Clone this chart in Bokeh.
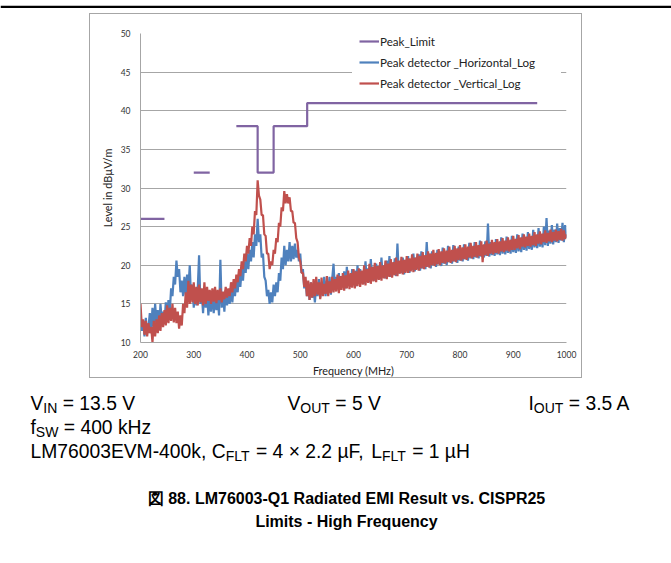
import math
from bokeh.plotting import figure
from bokeh.layouts import column
from bokeh.models import Range1d, Label, Legend, LegendItem, FixedTicker
from bokeh.embed import file_html
from bokeh.resources import INLINE

# ---------------- data ----------------
freq = [200 + 2.5 * i for i in range(321)]  # MHz, 200 ... 1000

horizontal = [
    14.0, 11.5, 12.8, 10.8, 13.2, 11.2, 12.0, 13.8, 11.5, 14.5,   # 200-222.5
    12.0, 15.0, 12.5, 14.2, 11.8, 15.0, 12.8, 14.0, 12.5, 15.2,   # 225-247.5
    13.5, 15.5, 14.0, 17.0, 16.0, 18.5, 17.5, 20.6, 18.5, 19.5,   # 250-272.5
    16.5, 18.0, 16.0, 18.5, 16.2, 18.8, 17.0, 20.0, 15.5, 17.5,   # 275-297.5
    14.5, 16.8, 14.8, 17.0, 21.3, 15.0, 16.5, 13.8, 16.8, 14.5,   # 300-322.5
    16.2, 13.5, 15.8, 14.0, 16.5, 13.8, 16.0, 14.2, 15.8, 13.5,   # 325-347.5
    20.7, 14.5, 16.5, 14.0, 16.8, 14.8, 16.2, 15.0, 16.8, 15.2,   # 350-372.5
    17.5, 16.0, 18.2, 16.5, 18.8, 17.2, 19.5, 18.0, 20.5, 19.0,   # 375-397.5
    21.5, 19.5, 22.0, 20.5, 23.0, 21.0, 24.0, 22.5, 26.0, 23.0,   # 400-422.5
    24.0, 21.0, 21.5, 18.5, 18.0, 16.0, 16.8, 15.0, 16.5, 15.2,   # 425-447.5
    17.5, 16.0, 17.8, 16.5, 19.0, 18.0, 21.0, 19.5, 22.5, 20.0,   # 450-472.5
    22.0, 20.5, 23.0, 20.5, 22.5, 20.8, 22.8, 21.0, 22.0, 20.5,   # 475-497.5
    21.5, 19.0, 19.5, 17.0, 18.0, 16.0, 17.5, 15.5, 17.8, 15.8,   # 500-522.5
    17.0, 15.2, 17.5, 16.0, 18.2, 15.8, 17.8, 16.2, 18.5, 16.0,   # 525-547.5
    18.0, 16.5, 18.5, 16.2, 18.2, 20.2, 16.8, 18.5, 17.0, 19.0,   # 550-572.5
    16.8, 18.6, 17.2, 19.2, 17.0, 19.8, 17.4, 18.8, 17.2, 19.5,   # 575-597.5
    17.5, 19.3, 17.3, 20.0, 17.6, 19.5, 17.8, 19.2, 17.6, 20.5,   # 600-622.5
    18.0, 19.6, 17.8, 20.8, 18.2, 19.8, 18.0, 20.2, 18.3, 19.9,   # 625-647.5
    18.2, 21.0, 18.4, 20.0, 18.3, 20.6, 18.6, 21.2, 18.5, 20.3,   # 650-672.5
    18.8, 20.9, 18.6, 22.8, 18.9, 20.5, 19.0, 21.0, 18.8, 20.7,   # 675-697.5
    19.2, 21.2, 19.0, 20.8, 19.4, 21.5, 19.2, 21.0, 19.5, 21.4,   # 700-722.5
    19.3, 21.8, 19.6, 21.2, 19.5, 23.0, 19.8, 21.5, 19.6, 21.8,   # 725-747.5
    20.0, 21.3, 19.8, 22.0, 20.1, 21.6, 19.9, 22.3, 20.2, 21.7,   # 750-772.5
    20.0, 22.5, 20.4, 21.8, 20.2, 22.6, 20.5, 21.9, 20.3, 22.4,   # 775-797.5
    20.6, 22.0, 20.5, 22.7, 20.8, 22.2, 20.6, 22.9, 20.9, 22.3,   # 800-822.5
    20.8, 23.0, 21.0, 22.4, 20.9, 23.2, 21.1, 22.6, 21.0, 23.1,   # 825-847.5
    21.2, 25.4, 21.1, 23.0, 21.3, 22.8, 21.2, 23.4, 21.4, 22.9,   # 850-872.5
    21.3, 23.6, 21.5, 23.0, 21.4, 23.7, 21.6, 23.1, 21.5, 23.8,   # 875-897.5
    21.7, 23.3, 21.6, 24.0, 21.8, 23.4, 21.7, 24.1, 22.0, 23.5,   # 900-922.5
    21.9, 24.3, 22.1, 23.7, 22.0, 24.6, 22.3, 23.9, 22.2, 24.8,   # 925-947.5
    22.4, 24.0, 22.3, 25.0, 22.6, 26.1, 22.5, 24.5, 22.8, 25.2,   # 950-972.5
    22.7, 24.6, 23.0, 25.4, 22.9, 24.8, 23.2, 25.5, 23.0, 25.2,   # 975-997.5
    23.5,                                                         # 1000
]

vertical = [
    15.0, 12.0, 13.0, 11.0, 12.8, 10.8, 12.5, 11.2, 12.0, 10.0,   # 200-222.5
    12.8, 10.8, 13.0, 11.2, 13.5, 11.5, 13.8, 12.0, 14.2, 12.2,   # 225-247.5
    14.8, 12.5, 14.5, 12.8, 15.0, 12.6, 14.5, 12.5, 14.0, 11.8,   # 250-272.5
    13.5, 12.2, 15.0, 13.8, 16.5, 14.5, 18.0, 15.0, 17.5, 15.2,   # 275-297.5
    17.8, 15.0, 17.2, 14.8, 17.5, 15.2, 17.0, 14.8, 17.8, 15.0,   # 300-322.5
    17.2, 15.4, 16.8, 15.0, 17.0, 15.3, 17.2, 15.1, 16.8, 15.5,   # 325-347.5
    17.0, 15.2, 16.6, 15.6, 17.2, 15.8, 17.0, 16.0, 17.8, 16.5,   # 350-372.5
    18.2, 17.0, 18.8, 17.8, 19.5, 18.6, 20.5, 19.5, 21.5, 20.5,   # 375-397.5
    22.5, 21.5, 23.5, 22.5, 25.0, 24.0, 27.0, 26.5, 31.0, 29.0,   # 400-422.5
    28.5, 26.5, 26.5, 24.0, 23.8, 21.5, 21.5, 19.5, 20.5, 20.0,   # 425-447.5
    22.0, 21.5, 23.5, 23.0, 25.5, 25.0, 27.5, 27.0, 29.6, 28.0,   # 450-472.5
    29.2, 28.0, 28.8, 27.0, 27.0, 25.5, 25.5, 23.5, 23.0, 21.0,   # 475-497.5
    20.5, 19.0, 19.0, 17.2, 18.5, 16.0, 18.0, 15.5, 17.8, 15.8,   # 500-522.5
    18.2, 16.0, 18.5, 16.2, 17.8, 15.6, 18.4, 16.0, 17.6, 16.3,   # 525-547.5
    18.6, 16.0, 17.9, 16.4, 18.5, 16.5, 18.2, 16.6, 18.8, 16.4,   # 550-572.5
    18.6, 16.8, 19.0, 16.7, 18.7, 17.0, 19.3, 16.9, 19.0, 17.1,   # 575-597.5
    19.5, 17.0, 19.2, 17.3, 19.6, 17.2, 19.3, 17.5, 20.0, 17.4,   # 600-622.5
    19.5, 17.7, 20.2, 17.6, 19.8, 17.9, 20.3, 17.8, 19.9, 18.1,   # 625-647.5
    20.4, 18.0, 20.0, 18.3, 20.6, 18.2, 20.2, 18.5, 20.8, 18.4,   # 650-672.5
    20.4, 18.7, 21.0, 18.6, 20.6, 18.9, 21.1, 18.8, 20.7, 19.0,   # 675-697.5
    21.2, 19.0, 20.9, 19.2, 21.4, 19.1, 21.0, 19.4, 21.5, 19.3,   # 700-722.5
    21.2, 19.6, 21.7, 19.5, 21.3, 19.8, 21.8, 19.7, 21.5, 20.0,   # 725-747.5
    22.0, 19.9, 21.6, 20.1, 22.1, 20.0, 21.8, 20.3, 22.2, 20.2,   # 750-772.5
    21.9, 20.4, 22.4, 20.3, 22.0, 20.5, 22.5, 20.4, 22.2, 20.7,   # 775-797.5
    22.6, 20.6, 22.3, 20.8, 22.7, 20.7, 22.4, 21.0, 22.9, 20.9,   # 800-822.5
    22.5, 21.1, 23.0, 21.0, 22.6, 21.2, 23.1, 20.4, 22.7, 21.3,   # 825-847.5
    23.2, 21.2, 22.8, 21.5, 23.3, 21.4, 23.0, 21.6, 23.4, 21.5,   # 850-872.5
    23.1, 21.8, 23.5, 21.7, 23.2, 21.9, 23.6, 21.8, 23.3, 22.0,   # 875-897.5
    23.8, 22.0, 23.4, 22.2, 23.9, 22.1, 23.6, 22.4, 24.0, 22.3,   # 900-922.5
    23.7, 22.5, 24.1, 22.4, 23.8, 22.6, 24.3, 22.5, 24.0, 22.8,   # 925-947.5
    24.4, 22.7, 24.1, 23.0, 24.5, 22.9, 24.2, 23.1, 24.6, 23.0,   # 950-972.5
    24.3, 23.2, 24.6, 23.1, 24.4, 23.3, 24.7, 23.2, 24.5, 23.4,   # 975-997.5
    24.0,                                                         # 1000
]

limit_start = [200, 300, 380, 420, 450, 513]
limit_end = [245, 330, 420, 450, 513, 945]
limit_level = [26, 32, 38, 32, 38, 41]

x_ticks = [200, 300, 400, 500, 600, 700, 800, 900, 1000]
y_ticks = [10, 15, 20, 25, 30, 35, 40, 45, 50]

series_names = ["Peak_Limit", "Peak detector _Horizontal_Log", "Peak detector _Vertical_Log"]
x_title = "Frequency (MHz)"
y_title = "Level in dBµV/m"

cond_line1 = [
    [("V", 0), ("IN", 1), (" = 13.5 V", 0)],
    [("V", 0), ("OUT", 1), (" = 5 V", 0)],
    [("I", 0), ("OUT", 1), (" = 3.5 A", 0)],
]
cond_line2 = [("f", 0), ("SW", 1), (" = 400 kHz", 0)]
cond_line3 = [("LM76003EVM-400k, C", 0), ("FLT", 1), (" = 4 × 2.2 µF,", 0),
              (" L", 0), ("FLT", 1), (" = 1 µH", 0)]
caption1 = "図 88. LM76003-Q1 Radiated EMI Result vs. CISPR25"
caption2 = "Limits - High Frequency"

# ---------------- colours / layout ----------------
C_LIMIT, C_H, C_V = "#8064A2", "#4F81BD", "#C0504D"
GRID = "#a6a6a6"
PAGE_W = 671
TOP_H = 13            # strip holding the top rule
CH_W, CH_H = 491, 363  # chart box (inside its 1px border)
TXT_TOP = TOP_H + CH_H + 2
TXT_H = 563 - TXT_TOP


def no_align(fig):
    if "frame_align" in fig.properties():
        fig.frame_align = False


# --- top rule strip ---
p0 = figure(width=PAGE_W, height=TOP_H, x_range=Range1d(0, PAGE_W), y_range=Range1d(TOP_H, 0),
            x_axis_type=None, y_axis_type=None, min_border=0,
            output_backend="svg", toolbar_location=None)
p0.outline_line_color = None
p0.quad(left=[0], right=[PAGE_W], top=[5.2], bottom=[7.4], fill_color="black", line_alpha=0)
no_align(p0)

# --- chart ---
p = figure(width=CH_W, height=CH_H, x_range=Range1d(200, 1000), y_range=Range1d(10, 50),
           output_backend="svg", toolbar_location=None,
           min_border_left=50, min_border_right=17, min_border_top=19, min_border_bottom=37,
           margin=(0, 0, 0, 89),
           styles={"border": "1px solid #a6a6a6", "box-sizing": "content-box"})
no_align(p)
p.outline_line_color = None
p.background_fill_color = "white"
p.border_fill_color = "white"

p.xgrid.visible = False
p.ygrid.grid_line_color = GRID
p.ygrid.grid_line_width = 1
p.ygrid.ticker = FixedTicker(ticks=y_ticks)

for ax in (p.xaxis[0], p.yaxis[0]):
    ax.major_tick_in = 0
    ax.major_tick_out = 0
    ax.minor_tick_in = 0
    ax.minor_tick_out = 0
    ax.axis_line_color = GRID
    ax.major_label_text_font = "Lato"
    ax.major_label_text_font_size = "8.5px"
    ax.major_label_text_color = "#333333"
    ax.axis_label_text_font = "Lato"
    ax.axis_label_text_font_size = "10.8px"
    ax.axis_label_text_font_style = "normal"
    ax.axis_label_text_color = "#222222"

p.xaxis.ticker = FixedTicker(ticks=x_ticks)
p.yaxis.ticker = FixedTicker(ticks=y_ticks)
p.xaxis.axis_label = x_title
p.yaxis.axis_label = y_title
p.xaxis.major_label_standoff = 8
p.xaxis.axis_label_standoff = 3
p.yaxis.major_label_standoff = 10
p.yaxis.axis_label_standoff = 4

r_h = p.line(freq, horizontal, line_color=C_H, line_width=2.2)
r_v = p.line(freq, vertical, line_color=C_V, line_width=2.2)

lx, ly = [], []
for i, (s, e, lv) in enumerate(zip(limit_start, limit_end, limit_level)):
    if i > 0 and limit_end[i - 1] != s:
        lx.append(math.nan)
        ly.append(math.nan)
    lx += [s, e]
    ly += [lv, lv]
r_lim = p.line(lx, ly, line_color=C_LIMIT, line_width=2.2)

legend = Legend(
    items=[LegendItem(label=series_names[0], renderers=[r_lim]),
           LegendItem(label=series_names[1], renderers=[r_h]),
           LegendItem(label=series_names[2], renderers=[r_v])],
    location=(212, 245), padding=7, spacing=7, margin=0,
    glyph_width=20, glyph_height=14, label_height=14, label_width=174,
    label_standoff=1,
    background_fill_color="white", background_fill_alpha=1.0,
    border_line_alpha=0,
    label_text_font="Lato", label_text_font_size="11.6px", label_text_color="#222222",
)
p.add_layout(legend)

# --- text below the chart (data units of this panel = page pixels) ---
pt = figure(width=PAGE_W, height=TXT_H, x_range=Range1d(0, PAGE_W),
            y_range=Range1d(563, TXT_TOP), x_axis_type=None, y_axis_type=None,
            min_border=0, output_backend="svg", toolbar_location=None)
pt.outline_line_color = None
no_align(pt)

AW = {' ': 278, '=': 584, '.': 278, ',': 278, '-': 333, '×': 584, 'µ': 576,
      'A': 667, 'C': 722, 'E': 667, 'F': 611, 'H': 722, 'I': 278, 'L': 556,
      'M': 833, 'N': 722, 'O': 778, 'S': 667, 'T': 611, 'U': 722, 'V': 667,
      'W': 944, 'f': 278, 'k': 500, 'z': 500}
FS = 19.3
SS = 14.0
FONT = "Liberation Sans"


def tw(t, size):
    return sum(AW.get(c, 556) for c in t) / 1000.0 * size


def add_rich(x, y, pieces):
    for txt, sub in pieces:
        size = SS if sub else FS
        lead = len(txt) - len(txt.lstrip(" "))
        x += tw(" " * lead, size)          # SVG drops leading blanks
        body = txt.lstrip(" ")
        pt.add_layout(Label(x=x, y=y + (4.5 if sub else 0), text=body,
                            text_font=FONT, text_font_size=f"{size}px",
                            text_color="black", text_baseline="alphabetic",
                            text_align="left"))
        x += tw(body, size)


for xx, pieces in zip([30, 287, 528], cond_line1):
    add_rich(xx, 403, pieces)
add_rich(30, 427, cond_line2)
add_rich(30, 451, cond_line3)

for txt, yy in [(caption1, 498), (caption2, 521)]:
    pt.add_layout(Label(x=346, y=yy, text=txt,
                        text_font=FONT, text_font_size="16px",
                        text_font_style="bold", text_color="black",
                        text_baseline="alphabetic", text_align="center"))

layout = column(p0, p, pt, spacing=0)
open("out.html", "w").write(file_html(layout, INLINE))
